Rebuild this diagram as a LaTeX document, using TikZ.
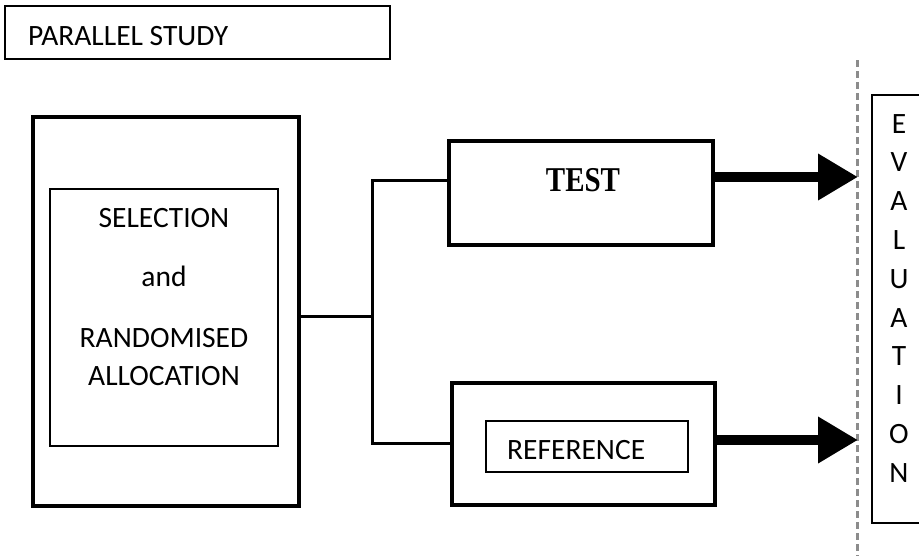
\documentclass[tikz,border=0pt]{standalone}
\usepackage{fontspec}
\setmainfont{Carlito}
\newfontfamily\testfont{Liberation Serif}
\usetikzlibrary{arrows.meta}
\begin{document}
\begin{tikzpicture}[x=1pt,y=-1pt,
  thinbox/.style={draw=black,line width=1.4pt,inner sep=0pt,outer sep=0pt},
  thickbox/.style={draw=black,line width=3.2pt,inner sep=0pt,outer sep=0pt},
  lbl/.style={inner sep=0pt,anchor=base,font=\fontsize{29.5}{34}\selectfont},
  conn/.style={line width=3pt},
  bigarrow/.style={line width=10pt,-{Triangle[length=40pt,width=44pt]}}]
\useasboundingbox (0,0) rectangle (919,555);
\clip (0,0) rectangle (919,555);
% title
\node[thinbox,minimum width=385pt,minimum height=53pt] (title) at (197.5,32.5) {};
\node[lbl,anchor=base west] (titletxt) at (28,45) {PARALLEL STUDY};
% selection
\node[thickbox,minimum width=266pt,minimum height=389pt] (sel) at (166,311.5) {};
\node[thinbox,minimum width=228pt,minimum height=257pt] (selin) at (164,317.5) {};
\node[lbl] (s1) at (164,227) {SELECTION};
\node[lbl] (s2) at (164,286) {and};
\node[lbl] (s3) at (164,347) {RANDOMISED};
\node[lbl] (s4) at (164,385) {ALLOCATION};
% test
\node[thickbox,minimum width=264pt,minimum height=104pt] (test) at (581,193) {};
\node[inner sep=0pt] (testtxt) at (583,180) {\testfont\bfseries\fontsize{29}{34}\selectfont\scalebox{1}[1.2]{TEST}};
% reference
\node[thickbox,minimum width=263pt,minimum height=122pt] (ref) at (583.5,444) {};
\node[thinbox,minimum width=202pt,minimum height=51pt] (refin) at (587,446.5) {};
\node[lbl,anchor=base west] (reftxt) at (507,459) {REFERENCE};
% connectors
\coordinate (jl) at (372,316);
\coordinate (jt) at (372,180);
\coordinate (jb) at (372,443);
\draw[conn] (sel.east |- jl) -- (jl);
\draw[conn] (test.west |- jt) -- (jt) -- (jb) -- (ref.west |- jb);
% dashed line
\coordinate (dtop) at (857,60);
\coordinate (dbot) at (857,560);
\draw[line width=3pt,black!45,dash pattern=on 7pt off 4pt] (dtop) -- (dbot);
\coordinate (ta) at (858,177);
\coordinate (ra) at (858,440);
\draw[bigarrow] (test.east |- ta) -- (ta);
\draw[bigarrow] (ref.east |- ra) -- (ra);
% evaluation
\node[thinbox,minimum width=60pt,minimum height=428pt,anchor=north west] (eval) at (872,95) {};
\foreach \ch [count=\i from 0] in {E,V,A,L,U,A,T,I,O,N}{
  \node[lbl] (ev\i) at (899,133+38.8*\i) {\ch};
}
\end{tikzpicture}
\end{document}
